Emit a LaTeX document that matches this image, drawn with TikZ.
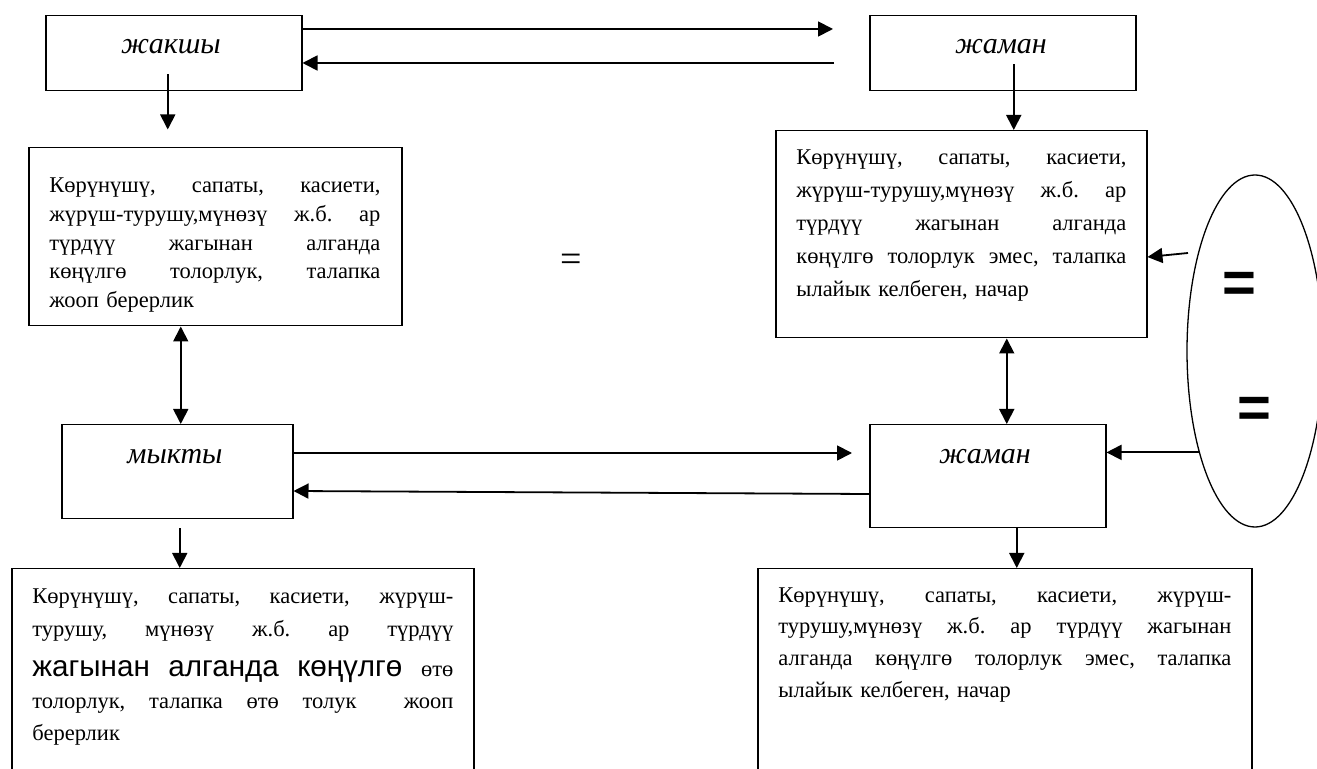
\documentclass[tikz,border=0pt]{standalone}
\usepackage{fontspec}
\setmainfont{Liberation Serif}
\setsansfont{Liberation Sans}
\usetikzlibrary{arrows.meta,shapes.geometric,calc}
\newcommand{\fullline}[1]{\par\hbox to\hsize{#1}}
\newcommand{\lastline}[1]{\par\hbox{#1}\par}
\newcommand{\topstrut}{\vrule height10pt width0pt\relax}
\begin{document}
\begin{tikzpicture}[x=0.5pt,y=-0.5pt,
  box/.style={draw,line width=0.75pt,rectangle,anchor=north west,inner sep=0pt},
  lbl/.style={font=\fontsize{15}{18}\selectfont\itshape,inner sep=0pt},
  arr/.style={line width=0.9pt,-{Triangle[length=7.5pt,width=7.5pt]}},
  darr/.style={line width=0.9pt,{Triangle[length=7.5pt,width=7.5pt]}-{Triangle[length=7.5pt,width=7.5pt]}},
  txt/.style={anchor=north west,inner sep=0pt,font=\fontsize{11.25}{14.3}\selectfont},
  eqbig/.style={font=\fontsize{29}{32}\selectfont\sffamily\bfseries,inner sep=0pt}
]
\useasboundingbox (0,0) rectangle (1317,769);
\clip (0,0) rectangle (1317,769);

% boxes
\node[box,minimum width=128pt,minimum height=37.5pt] (B1) at (45,15) {};
\node[box,minimum width=133pt,minimum height=37.5pt] (B2) at (869,15) {};
\node[box,minimum width=186.5pt,minimum height=89pt] (M1) at (28,147) {};
\node[box,minimum width=185.5pt,minimum height=103.5pt] (M2) at (775,130) {};
\node[box,minimum width=115.5pt,minimum height=47pt] (K1) at (61,424) {};
\node[box,minimum width=118pt,minimum height=51.5pt] (K2) at (869,424) {};
\node[box,minimum width=231pt,minimum height=120pt] (L1) at (11,568) {};
\node[box,minimum width=247pt,minimum height=120pt] (L2) at (757,568) {};
\node[draw,ellipse,line width=0.65pt,minimum width=68pt,minimum height=176pt,inner sep=0pt] (E) at (1255,351) {};

% labels
\node[lbl] (tB1) at (171,47) {жакшы};
\node[lbl] (tB2) at (1001,47) {жаман};
\node[lbl] (tK1) at (175,457) {мыкты};
\node[lbl] (tK2) at (985,457) {жаман};

% equal signs
\node[font=\fontsize{19}{22}\selectfont,inner sep=0pt] (eqm) at (571,263) {=};
\node[eqbig] (eq1) at (1239,287) {=};
\node[eqbig] (eq2) at (1254,412) {=};

% texts
\node[txt,text width=165.5pt] (T1) at (49,164) {%
\fullline{\topstrut Көрүнүшү,\hfill сапаты,\hfill касиети,}%
\fullline{жүрүш-турушу,мүнөзү\hfill ж.б.\hfill ар}%
\fullline{түрдүү\hfill жагынан\hfill алганда}%
\fullline{көңүлгө\hfill толорлук,\hfill талапка}%
\lastline{жооп берерлик}};

\node[txt,text width=165pt] (T2) at (796,131) {%
\baselineskip=16.5pt
\fullline{\topstrut Көрүнүшү,\hfill сапаты,\hfill касиети,}%
\fullline{жүрүш-турушу,мүнөзү\hfill ж.б.\hfill ар}%
\fullline{түрдүү\hfill жагынан\hfill алганда}%
\fullline{көңүлгө\hfill толорлук\hfill эмес,\hfill талапка}%
\lastline{ылайык келбеген, начар}};

\node[txt,text width=210.5pt] (T3) at (32,570) {%
\baselineskip=16.5pt
\fullline{\topstrut Көрүнүшү,\hfill сапаты,\hfill касиети,\hfill жүрүш-}%
\fullline{турушу,\hfill мүнөзү\hfill ж.б.\hfill ар\hfill түрдүү}%
\baselineskip=20.25pt
\fullline{{\sffamily\fontsize{14.8}{18}\selectfont жагынан\hfill алганда\hfill көңүлгө}\hfill өтө}%
\baselineskip=15.75pt
\fullline{толорлук,\hfill талапка\hfill өтө\hfill толук\hfill\hfill жооп}%
\baselineskip=16pt
\lastline{берерлик}};

\node[txt,text width=226.5pt] (T4) at (778,570) {%
\baselineskip=15.9pt
\fullline{\topstrut Көрүнүшү,\hfill сапаты,\hfill касиети,\hfill жүрүш-}%
\fullline{турушу,мүнөзү\hfill ж.б.\hfill ар\hfill түрдүү\hfill жагынан}%
\fullline{алганда\hfill көңүлгө\hfill толорлук\hfill эмес,\hfill талапка}%
\lastline{ылайык келбеген, начар}};

% connectors
\draw[arr] ([yshift=-7pt]B1.north east) -- ([xshift=-18pt,yshift=-7pt]B2.north west);
\draw[arr] ([xshift=-17.5pt,yshift=-24pt]B2.north west) -- ([yshift=-24pt]B1.north east);
\draw[arr] ([xshift=-3pt,yshift=8.5pt]B1.south) -- ([xshift=-3pt,yshift=-19pt]B1.south);
\draw[arr] ([xshift=5.5pt,yshift=13.5pt]B2.south) -- ([xshift=26.25pt]M2.north);
\draw[darr] ([xshift=-17.25pt]M1.south) -- ([xshift=1.75pt]K1.north);
\draw[darr] ([xshift=22.75pt]M2.south) -- ([xshift=9.5pt]K2.north);
\draw[arr] ([yshift=-14.5pt]K1.north east) -- ([xshift=-8.5pt,yshift=-14.5pt]K2.north west);
\draw[arr] ([yshift=-35pt]K2.north west) -- ([yshift=-33.5pt]K1.north east);
\draw[arr] (E.241) -- (E.241 -| K2.east);
\coordinate (e1) at (1188,253);
\draw[arr] (e1) -- ([yshift=-63.5pt]M2.north east);
\draw[arr] ([xshift=1.25pt,yshift=-4.5pt]K1.south) -- ([xshift=-31.5pt]L1.north);
\draw[arr] ([xshift=14.5pt]K2.south) -- ([xshift=6pt]L2.north);
\end{tikzpicture}
\end{document}
